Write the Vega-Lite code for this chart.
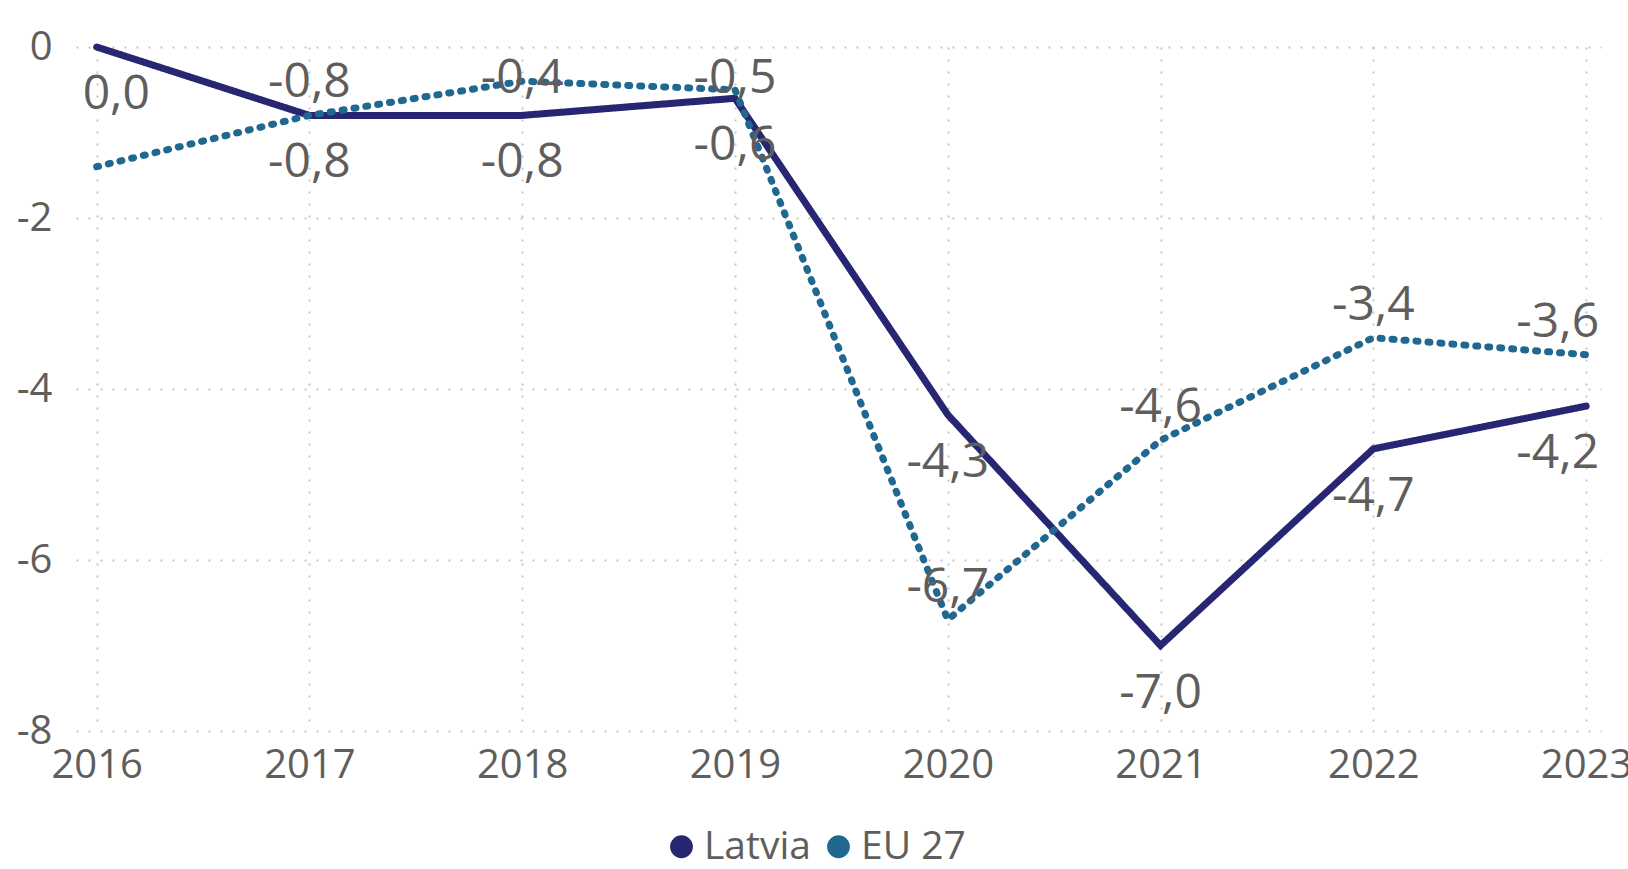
{
  "$schema": "https://vega.github.io/schema/vega-lite/v6.json",
  "width": 1525,
  "height": 684,
  "autosize": {"type": "none"},
  "padding": {"left": 76, "top": 47, "right": 27, "bottom": 138},
  "background": "white",
  "config": {
    "view": {"stroke": null},
    "font": "Open Sans",
    "locale": {
      "number": {"decimal": ",", "thousands": " ", "grouping": [3], "currency": ["", " €"], "minus": "-"}
    },
    "axis": {
      "labelFont": "Open Sans",
      "labelColor": "#605E5C",
      "labelFontSize": 40,
      "domain": false,
      "ticks": false,
      "gridColor": "#C8C6C4",
      "gridWidth": 2,
      "gridDash": [2, 10],
      "title": null
    }
  },
  "data": {
    "values": [
      {"year": 2016, "series": "Latvia", "value": 0.0},
      {"year": 2017, "series": "Latvia", "value": -0.8},
      {"year": 2018, "series": "Latvia", "value": -0.8},
      {"year": 2019, "series": "Latvia", "value": -0.6},
      {"year": 2020, "series": "Latvia", "value": -4.3},
      {"year": 2021, "series": "Latvia", "value": -7.0},
      {"year": 2022, "series": "Latvia", "value": -4.7},
      {"year": 2023, "series": "Latvia", "value": -4.2},
      {"year": 2016, "series": "EU 27", "value": -1.4},
      {"year": 2017, "series": "EU 27", "value": -0.8},
      {"year": 2018, "series": "EU 27", "value": -0.4},
      {"year": 2019, "series": "EU 27", "value": -0.5},
      {"year": 2020, "series": "EU 27", "value": -6.7},
      {"year": 2021, "series": "EU 27", "value": -4.6},
      {"year": 2022, "series": "EU 27", "value": -3.4},
      {"year": 2023, "series": "EU 27", "value": -3.6}
    ]
  },
  "encoding": {
    "x": {
      "field": "year",
      "type": "quantitative",
      "scale": {"domain": [2015.903, 2023.07], "nice": false, "zero": false},
      "axis": {
        "values": [2016, 2017, 2018, 2019, 2020, 2021, 2022, 2023],
        "format": "d",
        "labelPadding": 14,
        "labelOverlap": false,
        "labelBound": false,
        "labelFlush": false
      }
    },
    "y": {
      "field": "value",
      "type": "quantitative",
      "scale": {"domain": [-8, 0], "nice": false},
      "axis": {"values": [0, -2, -4, -6, -8], "format": "d", "labelPadding": 24}
    }
  },
  "layer": [
    {
      "mark": {"type": "line", "strokeWidth": 7, "strokeCap": "round", "strokeJoin": "miter"},
      "encoding": {
        "color": {
          "field": "series",
          "type": "nominal",
          "scale": {"domain": ["Latvia", "EU 27"], "range": ["#262673", "#216891"]},
          "legend": {
            "title": null,
            "orient": "none",
            "legendX": 586,
            "legendY": 780,
            "direction": "horizontal",
            "symbolType": "circle",
            "symbolSize": 520,
            "symbolStrokeWidth": 0,
            "symbolOpacity": 1,
            "labelFont": "Open Sans",
            "labelFontSize": 39,
            "labelColor": "#605E5C",
            "labelOffset": 3,
            "columnPadding": 8,
            "encode": {
              "symbols": {
                "update": {
                  "fill": {"scale": "color", "field": "value"},
                  "strokeDash": {"value": [1, 0]},
                  "strokeWidth": {"value": 0}
                }
              }
            }
          }
        },
        "strokeDash": {
          "field": "series",
          "type": "nominal",
          "scale": {"domain": ["Latvia", "EU 27"], "range": [[1, 0], [2, 10]]},
          "legend": null
        }
      }
    },
    {
      "transform": [{"filter": "datum.series == 'Latvia'"}],
      "mark": {
        "type": "text",
        "font": "Open Sans",
        "fontSize": 48,
        "color": "#605E5C",
        "baseline": "middle",
        "dy": 48,
        "align": {"expr": "datum.year == 2016 ? 'left' : datum.year == 2023 ? 'right' : 'center'"},
        "dx": {"expr": "datum.year == 2016 ? -14 : datum.year == 2023 ? 13 : 0"}
      },
      "encoding": {
        "text": {"field": "value", "type": "quantitative", "format": ".1f"}
      }
    },
    {
      "transform": [{"filter": "datum.series == 'EU 27' && datum.year != 2016"}],
      "mark": {
        "type": "text",
        "font": "Open Sans",
        "fontSize": 48,
        "color": "#605E5C",
        "baseline": "middle",
        "dy": {"expr": "max(-32, 32 - scale('y', datum.value))"},
        "align": {"expr": "datum.year == 2016 ? 'left' : datum.year == 2023 ? 'right' : 'center'"},
        "dx": {"expr": "datum.year == 2016 ? -14 : datum.year == 2023 ? 13 : 0"}
      },
      "encoding": {
        "text": {"field": "value", "type": "quantitative", "format": ".1f"}
      }
    }
  ]
}
